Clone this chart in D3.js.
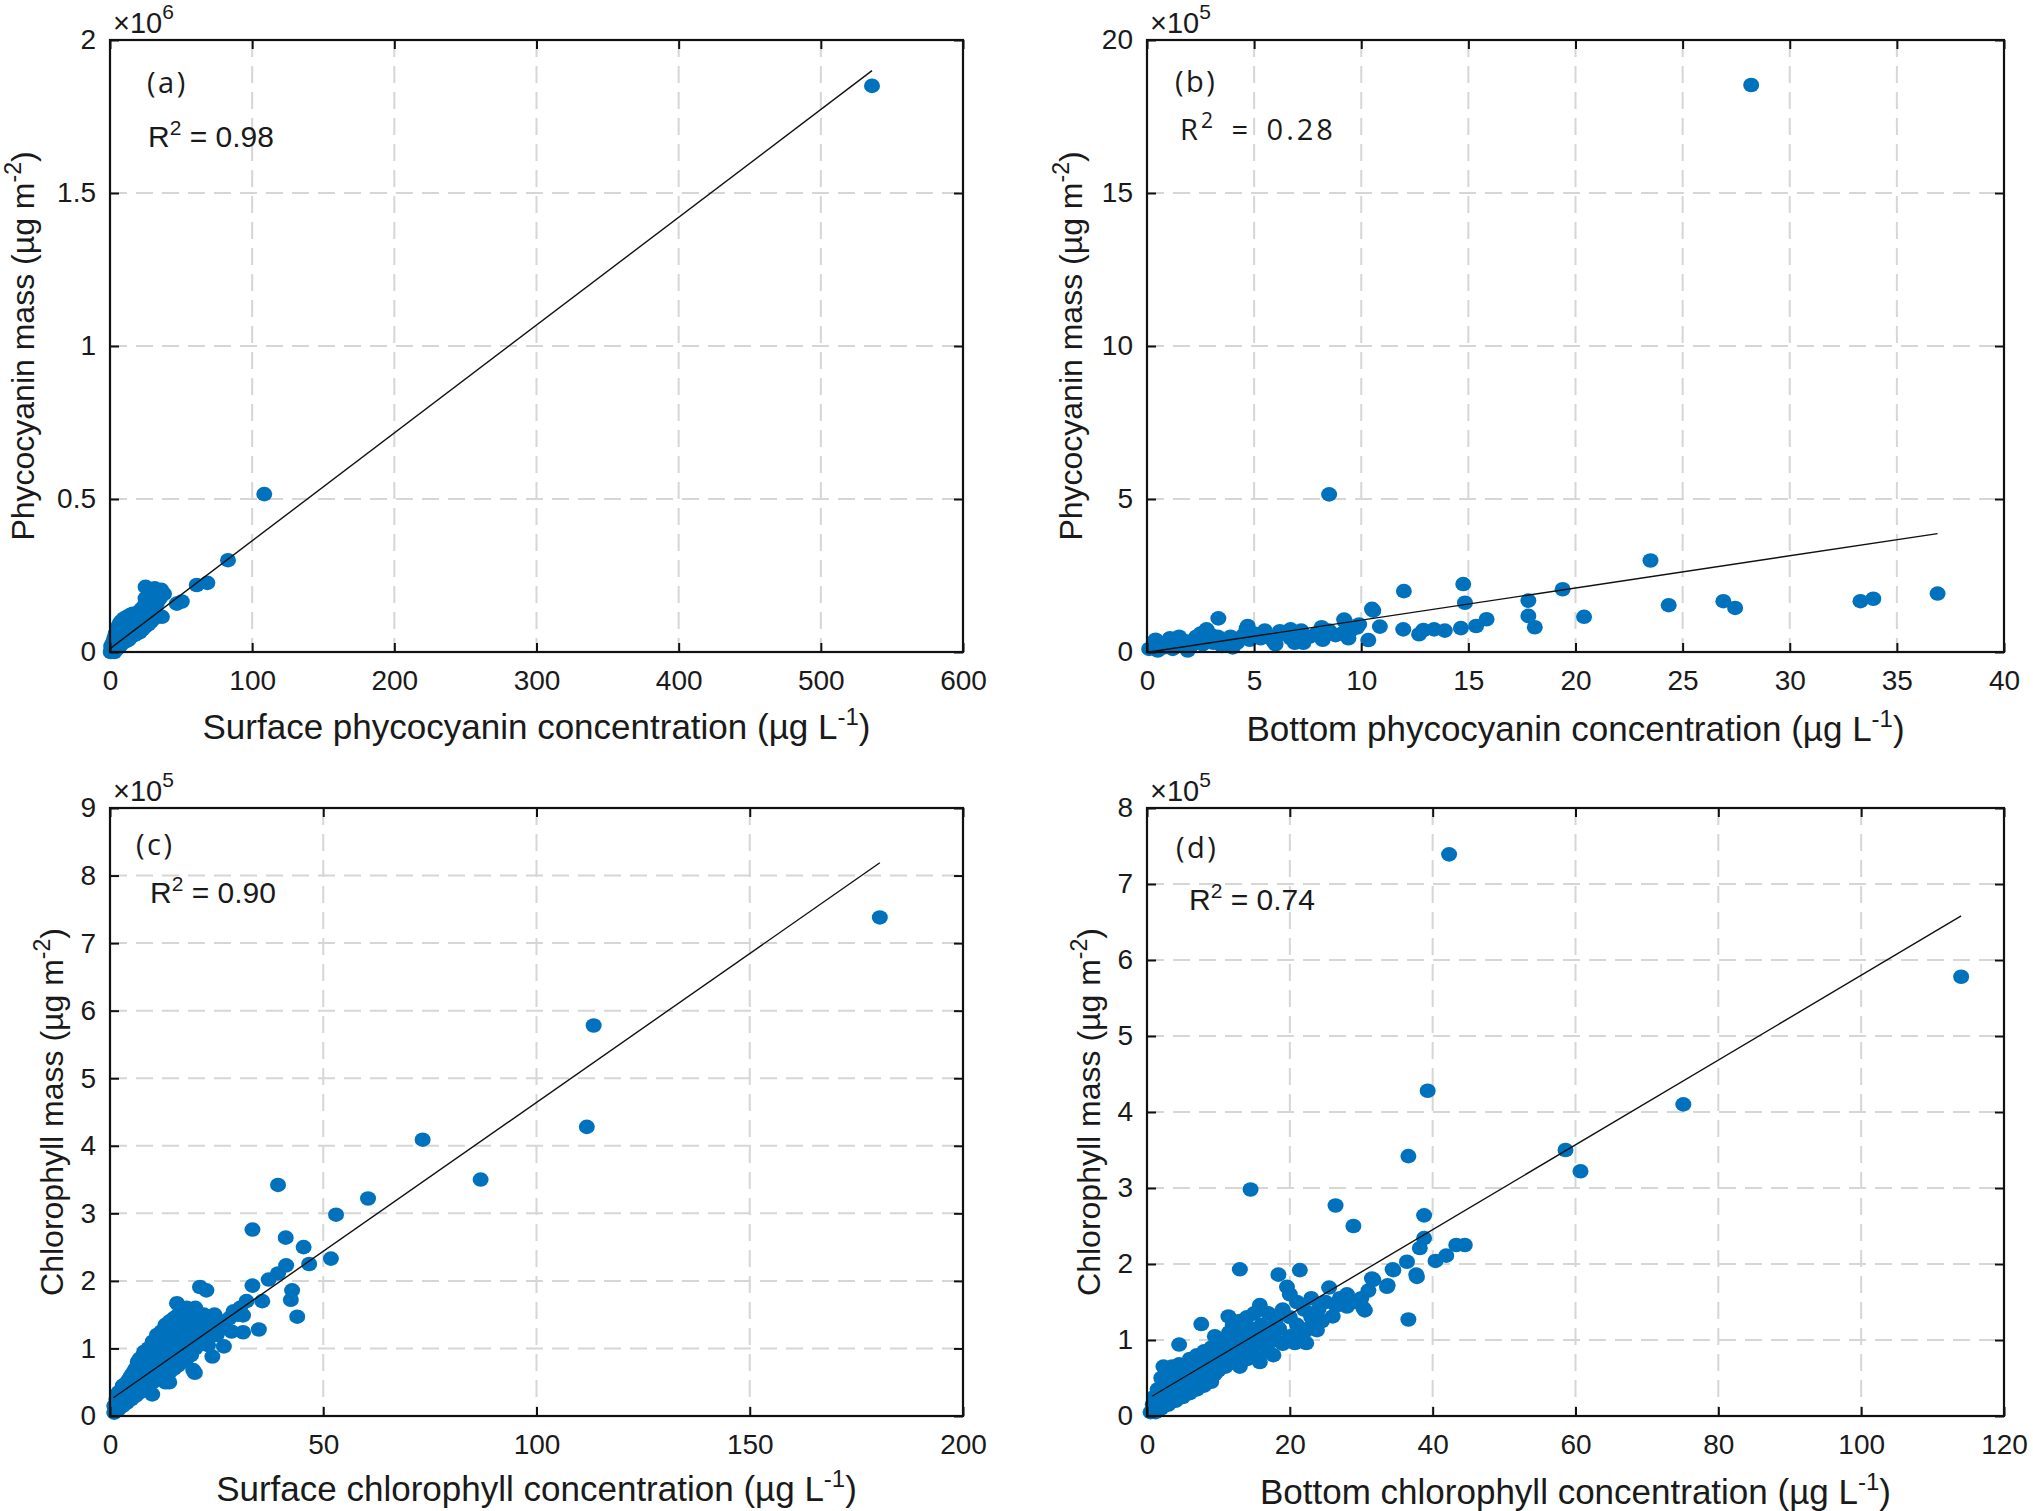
<!DOCTYPE html>
<html><head><meta charset="utf-8">
<script src="https://cdn.jsdelivr.net/npm/d3@7"></script>
<style>body{margin:0;background:#fff}</style>
</head><body>
<svg id="chart" width="2033" height="1511"></svg>
<script>
// ---------------- DATA ----------------
const panelTags = ["(a)", "(b)", "(c)", "(d)"];
const r2Values = ["0.98", "0.28", "0.90", "0.74"];
const exponents = ["6", "5", "5", "5"];
const xLabels = ["Surface phycocyanin concentration", "Bottom phycocyanin concentration",
                 "Surface chlorophyll concentration", "Bottom chlorophyll concentration"];
const yLabels = ["Phycocyanin mass", "Phycocyanin mass", "Chlorophyll mass", "Chlorophyll mass"];

const xTicksA = [0, 100, 200, 300, 400, 500, 600];
const yTicksA = [0, 0.5, 1, 1.5, 2];
const xTicksB = [0, 5, 10, 15, 20, 25, 30, 35, 40];
const yTicksB = [0, 5, 10, 15, 20];
const xTicksC = [0, 50, 100, 150, 200];
const yTicksC = [0, 1, 2, 3, 4, 5, 6, 7, 8, 9];
const xTicksD = [0, 20, 40, 60, 80, 100, 120];
const yTicksD = [0, 1, 2, 3, 4, 5, 6, 7, 8];

// (a) surface phycocyanin (µg/L) vs mass (×10^6)
const ptsA = [
 [536,1.85],[108.5,0.516],[83,0.30],[68.5,0.226],[61,0.219],[50.5,0.165],[47,0.158],
 [25,0.213],[31.5,0.208],[36,0.203],[34,0.2],[38,0.19],[27,0.2],[29,0.19],[35,0.175],[33,0.16],[30,0.15],
 [25,0.175],[24,0.15],[22,0.14],[20,0.13],[18,0.125],[16,0.125],[14,0.12],[12,0.115],[10,0.11],[9,0.105],
 [8,0.1],[7,0.095],[6,0.085],[5,0.07],[4,0.06],[3,0.045],[2,0.03],
 [1,0.005],[2,0.01],[3,0.02],[4,0.03],[5,0.035],[6,0.045],[7,0.05],[8,0.06],[9,0.065],[10,0.07],[11,0.08],
 [12,0.085],[13,0.09],[14,0.095],[15,0.1],[17,0.105],[19,0.1],[21,0.11],[23,0.12],[26,0.13],[28,0.14],
 [3,0.0],[5,0.01],[7,0.02],[9,0.03],[11,0.035],[13,0.04],[15,0.05],[17,0.055],[19,0.06],[21,0.065],
 [23,0.075],[25,0.085],[27,0.09],[29,0.1],[31,0.11],[36.5,0.115],[33,0.125],[0.5,0.0],[1.5,0.015],[0.8,0.02]
];
const fitA = [[0.3, 0.012], [536, 1.90]];

// (b) bottom phycocyanin (µg/L) vs mass (×10^5)
const ptsB = [
 [28.2,18.53],[8.5,5.15],[23.5,2.99],[24.35,1.53],[26.9,1.66],[27.45,1.44],[33.3,1.66],[33.9,1.74],[36.9,1.91],
 [19.4,2.05],[20.4,1.15],[17.8,1.68],[17.8,1.18],[18.1,0.81],[14.76,2.22],[14.84,1.61],[15.85,1.07],[15.36,0.85],
 [14.65,0.78],[13.9,0.70],[13.4,0.74],[12.9,0.72],[12.7,0.58],[11.96,0.74],[11.99,1.99],[10.56,1.35],[10.87,0.83],
 [10.33,0.39],[9.24,0.99],[9.8,0.8],[9.4,0.45],[3.33,1.1],[2.78,0.74],[2.5,0.6],[1.07,0.45],[4.65,0.77],[8.15,0.81],
 [6.7,0.74],[6.2,0.68],
 [0.1,0.1],[0.3,0.2],[0.5,0.05],[0.6,0.3],[0.8,0.15],[1.0,0.25],[1.2,0.1],[1.4,0.3],[1.6,0.2],[1.8,0.35],[2.0,0.15],
 [2.2,0.3],[2.4,0.4],[2.6,0.25],[2.9,0.45],[3.1,0.3],[3.3,0.5],[3.6,0.35],[3.9,0.5],[4.2,0.3],[4.5,0.55],[4.8,0.4],
 [5.0,0.6],[5.3,0.45],[5.6,0.5],[5.9,0.35],[6.1,0.55],[6.4,0.6],[6.7,0.45],[7.0,0.55],[7.3,0.3],[7.6,0.5],[7.9,0.6],
 [8.2,0.4],[8.5,0.7],[8.8,0.55],[9.1,0.6],[9.5,0.7],[9.9,0.9],[7.2,0.7],[5.5,0.7],[4.7,0.85],[3.0,0.55],[2.3,0.5],
 [1.5,0.5],[0.4,0.4],[1.9,0.05],[4.0,0.15],[3.5,0.2],[6.0,0.25],[6.9,0.3],[10.5,1.41],[9.2,1.06]
];
const fitB = [[0.1, 0.0], [36.9, 3.87]];

// (c) surface chlorophyll (µg/L) vs mass (×10^5)
const ptsC = [
 [180.5,7.38],[113.4,5.78],[111.8,4.28],[73.3,4.09],[86.9,3.50],[39.4,3.42],[60.5,3.22],[53.0,2.98],[33.4,2.76],
 [41.2,2.64],[45.4,2.50],[51.8,2.33],[46.7,2.25],[41.3,2.23],[42.7,1.86],[42.4,1.72],[43.9,1.47],[34.9,1.28],
 [35.7,1.70],[33.4,1.93],[37.2,2.02],[39.4,2.11],[21.1,1.91],[22.6,1.86],[15.7,1.67],[31.2,1.49],[26.7,1.03],
 [31.2,1.24],[19.9,0.64],[13.9,0.50],[9.9,0.32],
 [1,0.05],[1,0.15],[1.5,0.1],[1.5,0.25],[2,0.1],[2,0.2],[2,0.35],[2.5,0.15],[2.5,0.3],[3,0.15],[3,0.3],[3,0.45],
 [3.5,0.2],[3.5,0.4],[4,0.2],[4,0.35],[4,0.5],[4.5,0.3],[4.5,0.55],[5,0.25],[5,0.4],[5,0.6],[5.5,0.35],[5.5,0.65],
 [6,0.3],[6,0.5],[6,0.7],[6.5,0.45],[6.5,0.8],[7,0.35],[7,0.6],[7,0.85],[7.5,0.5],[7.5,0.75],[8,0.4],[8,0.65],
 [8,0.95],[8.5,0.55],[8.5,0.85],[9,0.45],[9,0.7],[9,1.0],[9.5,0.6],[9.5,0.9],[10,0.5],[10,0.8],[10,1.1],
 [10.5,0.65],[10.5,0.95],[11,0.55],[11,0.85],[11,1.2],[11.5,0.7],[11.5,1.05],[12,0.6],[12,0.9],[12,1.25],
 [12.5,0.75],[12.5,1.1],[13,0.5],[13,0.95],[13,1.35],[13.5,0.8],[13.5,1.2],[14,0.65],[14,1.0],[14,1.4],
 [14.5,0.85],[14.5,1.25],[15,0.7],[15,1.05],[15,1.45],[15.5,0.9],[15.5,1.3],[16,0.75],[16,1.1],[16,1.5],
 [16.5,0.95],[16.5,1.35],[17,0.8],[17,1.15],[17,1.5],[17.5,1.0],[17.5,1.4],[18,0.85],[18,1.2],[18,1.6],
 [18.5,1.05],[18.5,1.45],[19,0.9],[19,1.25],[19,1.55],[19.5,0.68],[20,1.0],[20,1.35],[20,1.6],[21,1.1],
 [21,1.45],[22,1.2],[22,1.5],[23,1.05],[23,1.35],[24,0.88],[24,1.3],[24.5,1.5],[25,1.2],[26,1.4],[27,1.3],
 [28,1.45],[28.5,1.25],[29,1.55],[30,1.5],[30.5,1.6],[32,1.7]
];
const fitC = [[0.8, 0.27], [180.5, 8.19]];

// (d) bottom chlorophyll (µg/L) vs mass (×10^5)
const ptsD = [
 [42.3,7.39],[114.0,5.78],[39.3,4.28],[75.1,4.10],[36.6,3.42],[58.6,3.50],[60.7,3.22],[14.5,2.98],[26.4,2.77],
 [28.9,2.50],[38.8,2.64],[38.8,2.34],[38.2,2.21],[43.3,2.25],[44.5,2.25],[40.4,2.04],[41.9,2.11],[36.4,2.03],
 [37.7,1.86],[34.4,1.93],[31.5,1.81],[33.7,1.72],[13.0,1.93],[21.4,1.92],[18.4,1.86],[36.6,1.27],[4.5,0.94],
 [7.6,1.21],[25.5,1.69],[30.3,1.42],[22.3,0.96],
 [0.5,0.05],[0.8,0.15],[1,0.25],[1.2,0.05],[1.5,0.2],[1.5,0.35],[2,0.1],[2,0.3],[2,0.5],[2.3,0.65],[2.5,0.2],
 [2.5,0.45],[3,0.15],[3,0.35],[3,0.6],[3.5,0.25],[3.5,0.5],[3.5,0.65],[4,0.2],[4,0.4],[4,0.6],[4.5,0.3],
 [4.5,0.5],[4.5,0.68],[5,0.25],[5,0.45],[5,0.65],[5.5,0.35],[5.5,0.6],[6,0.3],[6,0.5],[6,0.75],[6.5,0.4],
 [6.5,0.65],[7,0.35],[7,0.55],[7,0.8],[7.5,0.45],[7.5,0.7],[8,0.4],[8,0.6],[8,0.85],[8.5,0.5],[8.5,0.75],
 [9,0.45],[9,0.65],[9,0.9],[9.5,0.55],[9.5,1.05],[10,0.6],[10,0.8],[10,1.0],[10.5,0.7],[10.5,0.95],[11,0.65],
 [11,0.9],[11.4,1.31],[11.5,0.8],[11.5,1.1],[12,0.7],[12,1.0],[12,1.2],[12.5,0.85],[12.5,1.1],[13,0.65],
 [13,0.95],[13,1.25],[13.5,0.8],[13.5,1.05],[14,0.75],[14,1.0],[14,1.3],[14.5,0.9],[14.5,1.15],[15,0.8],
 [15,1.05],[15,1.35],[15.8,0.71],[15.8,1.46],[16,0.95],[16,1.2],[16.5,1.05],[17,0.85],[17,1.1],[17,1.35],
 [17.7,0.8],[18,1.0],[18,1.25],[18.5,1.15],[19,0.95],[19,1.4],[19.6,1.70],[20,1.05],[20,1.3],[20,1.6],
 [20.7,0.96],[21,1.2],[21,1.5],[22,1.1],[22,1.4],[22.6,1.15],[23,1.3],[23,1.55],[23.8,1.13],[24,1.4],
 [24.5,1.25],[25,1.5],[26,1.31],[26.5,1.45],[27,1.55],[28,1.44],[28,1.6],[29,1.5],[30,1.55],[30.5,1.39],
 [31,1.65],[31.7,1.79],[33.6,1.70],[34.5,1.92],[37.8,1.83]
];
const fitD = [[0.7, 0.26], [114, 6.58]];

// ---------------- LAYOUT ----------------
const panels = [
  {x0:110, x1:963, y0:40, y1:652, xDom:[0,600], yDom:[0,2], xT:xTicksA, yT:yTicksA, pts:ptsA, fit:fitA,
   tag:[147,93], r2:[148,147], wide:false, xlabY:739, ylabX:34},
  {x0:1147, x1:2004, y0:40, y1:652, xDom:[0,40], yDom:[0,20], xT:xTicksB, yT:yTicksB, pts:ptsB, fit:fitB,
   tag:[1175,92], r2:[1180,140], wide:true, xlabY:741, ylabX:1082},
  {x0:110, x1:963, y0:808, y1:1416, xDom:[0,200], yDom:[0,9], xT:xTicksC, yT:yTicksC, pts:ptsC, fit:fitC,
   tag:[136,855], r2:[150,903], wide:false, xlabY:1501, ylabX:63},
  {x0:1147, x1:2004, y0:808, y1:1416, xDom:[0,120], yDom:[0,8], xT:xTicksD, yT:yTicksD, pts:ptsD, fit:fitD,
   tag:[1176,858], r2:[1189,910], wide:false, xlabY:1504, ylabX:1100}
];

const svg = d3.select("#chart");
const FONT = "'Liberation Sans', Arial, Helvetica, sans-serif";
const TAGFONT = "'Open Sans', 'Noto Sans', sans-serif";
const TXT = "#1a1a1a";

panels.forEach((p, i) => {
  const x = d3.scaleLinear().domain(p.xDom).range([p.x0, p.x1]);
  const y = d3.scaleLinear().domain(p.yDom).range([p.y1, p.y0]);
  const g = svg.append("g");

  // grid
  g.append("g").selectAll("line").data(p.xT.slice(1, -1)).join("line")
    .attr("x1", d => x(d)).attr("x2", d => x(d)).attr("y1", p.y0).attr("y2", p.y1)
    .attr("stroke", "#d6d6d6").attr("stroke-width", 2).attr("stroke-dasharray", "17,9");
  g.append("g").selectAll("line").data(p.yT.slice(1, -1)).join("line")
    .attr("y1", d => y(d)).attr("y2", d => y(d)).attr("x1", p.x0).attr("x2", p.x1)
    .attr("stroke", "#d6d6d6").attr("stroke-width", 2).attr("stroke-dasharray", "17,9");

  // points
  g.append("g").selectAll("ellipse").data(p.pts).join("ellipse")
    .attr("cx", d => x(d[0])).attr("cy", d => y(d[1]))
    .attr("rx", 8).attr("ry", 7.3).attr("fill", "#0072BD");

  // fit line
  g.append("line")
    .attr("x1", x(p.fit[0][0])).attr("y1", y(p.fit[0][1]))
    .attr("x2", x(p.fit[1][0])).attr("y2", y(p.fit[1][1]))
    .attr("stroke", "#111").attr("stroke-width", 1.4);

  // axes
  const fmt = d => String(d);
  const axB = g.append("g").attr("transform", `translate(0,${p.y1})`)
    .call(d3.axisBottom(x).tickValues(p.xT).tickFormat(fmt).tickSizeInner(-9).tickSizeOuter(0).tickPadding(18));
  const axL = g.append("g").attr("transform", `translate(${p.x0},0)`)
    .call(d3.axisLeft(y).tickValues(p.yT).tickFormat(fmt).tickSizeInner(-9).tickSizeOuter(0).tickPadding(14));
  const axT = g.append("g").attr("transform", `translate(0,${p.y0})`)
    .call(d3.axisTop(x).tickValues(p.xT).tickFormat("").tickSizeInner(-9).tickSizeOuter(0));
  const axR = g.append("g").attr("transform", `translate(${p.x1},0)`)
    .call(d3.axisRight(y).tickValues(p.yT).tickFormat("").tickSizeInner(-9).tickSizeOuter(0));
  [axB, axL, axT, axR].forEach(a => {
    a.select(".domain").remove();
    a.selectAll(".tick line").attr("stroke", "#111").attr("stroke-width", 2);
    a.selectAll(".tick text").attr("fill", TXT).style("font-family", FONT).style("font-size", "28px");
  });

  // box
  g.append("rect").attr("x", p.x0).attr("y", p.y0).attr("width", p.x1 - p.x0).attr("height", p.y1 - p.y0)
    .attr("fill", "none").attr("stroke", "#111").attr("stroke-width", 2.2);

  // exponent label
  const ex = g.append("text").attr("x", p.x0 + 3).attr("y", p.y0 - 7)
    .attr("fill", TXT).style("font-family", FONT).style("font-size", "29px");
  ex.append("tspan").text("\u00D710");
  ex.append("tspan").attr("dy", -14).style("font-size", "21px").text(exponents[i]);

  // panel tag
  g.append("text").attr("x", p.tag[0]).attr("y", p.tag[1]).attr("fill", TXT)
    .style("font-family", TAGFONT).style("font-size", "29px").style("letter-spacing", "2.5px").text(panelTags[i]);

  // R2
  const r = g.append("text").attr("x", p.r2[0]).attr("y", p.r2[1]).attr("fill", TXT)
    .style("font-family", p.wide ? TAGFONT : FONT).style("font-size", p.wide ? "29px" : "30px");
  if (p.wide) r.style("letter-spacing", "3px").style("word-spacing", "5px");
  r.append("tspan").text("R");
  r.append("tspan").attr("dy", -12).style("font-size", "21px").text("2");
  r.append("tspan").attr("dy", 12).text(" = " + r2Values[i]);

  // x label
  const xl = g.append("text").attr("x", (p.x0 + p.x1) / 2).attr("y", p.xlabY)
    .attr("text-anchor", "middle").attr("fill", TXT).style("font-family", FONT).style("font-size", "35px");
  xl.append("tspan").text(xLabels[i] + " (\u00B5g L");
  xl.append("tspan").attr("dy", -14).style("font-size", "24px").text("-1");
  xl.append("tspan").attr("dy", 14).text(")");

  // y label
  const yl = g.append("text").attr("transform", `translate(${p.ylabX},${(p.y0 + p.y1) / 2}) rotate(-90)`)
    .attr("text-anchor", "middle").attr("fill", TXT).style("font-family", FONT).style("font-size", "32px");
  yl.append("tspan").text(yLabels[i] + " (\u00B5g m");
  yl.append("tspan").attr("dy", -13).style("font-size", "23px").text("-2");
  yl.append("tspan").attr("dy", 13).text(")");
});
</script>
</body></html>
